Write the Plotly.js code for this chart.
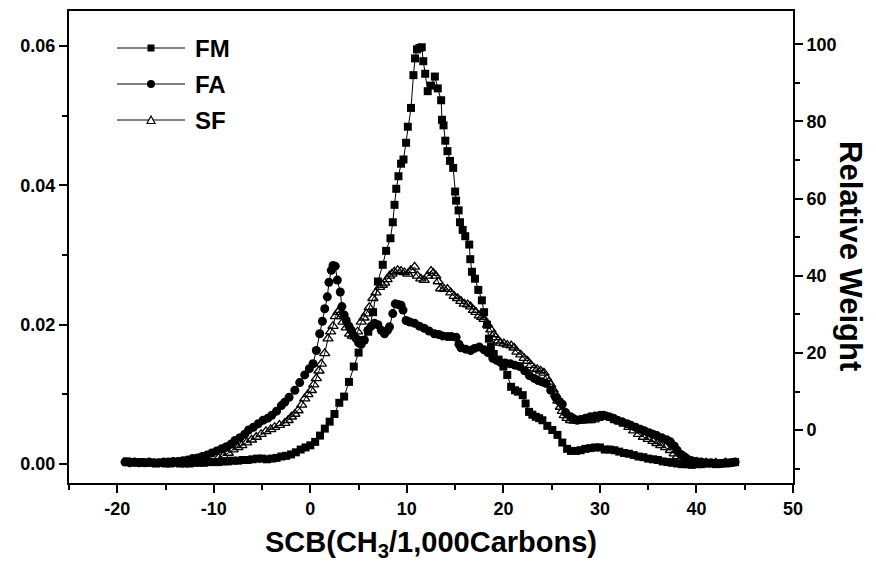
<!DOCTYPE html>
<html>
<head>
<meta charset="utf-8">
<script src="https://cdn.plot.ly/plotly-3.0.1.min.js"></script>
<style>
  html, body { margin: 0; padding: 0; background: #fff; }
  #chart { width: 876px; height: 567px; }
</style>
</head>
<body>
<div id="chart"></div>
<script>
// ---- Data ----
const fmX = [-19,-18.5,-18,-17.5,-17,-16.5,-16,-15.5,-15,-14.5,-14,-13.5,-13,-12.5,-12,-11.5,-11,-10.5,-10,-9.5,-9,-8.5,-8,-7.5,-7,-6.5,-6,-5.5,-5,-4.5,-4,-3.5,-3,-2.5,-2,-1.5,-1,-0.5,0,0.5,1,1.5,2,2.5,3,3.5,4,4.5,5,5.5,6,6.5,7,7.5,7.85,8.3,8.54,8.72,8.9,9.13,9.4,9.65,9.92,10.1,10.43,10.68,10.85,11.05,11.3,11.54,11.7,11.9,12.16,12.5,12.9,13.2,13.55,13.64,13.8,13.98,14.2,14.47,14.8,15.0,15.1,15.36,15.5,15.78,16.05,16.46,16.57,16.74,17.05,17.4,17.77,18.0,18.3,18.5,18.7,19.0,19.5,20.0,20.4,20.8,21.2,21.5,22.0,22.3,22.66,23.0,23.35,23.7,24.04,24.55,25.07,25.6,26.1,26.6,27.0,27.5,28.0,28.5,29.0,29.5,30.0,30.5,31.0,31.5,32.0,32.5,33.0,33.5,34.0,34.5,35.0,35.5,36.0,36.5,37.0,37.5,38.0,38.5,39.0,39.5,40.0,40.5,41.0,41.5,42.0,42.5,43.0,43.5,44.0];
const fmY = [0.0004,0.0003,0.0002,0.0003,0.0002,0.0002,0.0001,0.0002,0.0001,0.0001,0.0002,0.0001,0.0001,0.0001,0.0002,0.0002,0.0002,0.0003,0.0003,0.0003,0.0004,0.0004,0.0005,0.0005,0.0006,0.0006,0.0007,0.0008,0.0008,0.0007,0.0008,0.0009,0.0011,0.0012,0.0014,0.0017,0.0021,0.0024,0.0027,0.0032,0.0041,0.0051,0.0061,0.0072,0.0088,0.0097,0.0118,0.0140,0.0160,0.0178,0.0190,0.0218,0.0262,0.0286,0.0306,0.0324,0.0347,0.0372,0.0395,0.0413,0.0431,0.0437,0.0461,0.0484,0.0511,0.0558,0.0582,0.0595,0.0597,0.0598,0.0578,0.0560,0.0535,0.0543,0.0556,0.0539,0.0522,0.0494,0.0486,0.0464,0.0449,0.0435,0.0425,0.0391,0.0378,0.0364,0.0347,0.0336,0.0327,0.0315,0.0294,0.0276,0.0266,0.0250,0.0235,0.0218,0.0200,0.0180,0.0168,0.0158,0.0150,0.0140,0.0128,0.0111,0.0106,0.0104,0.0099,0.0087,0.0075,0.0071,0.0068,0.0066,0.0063,0.0055,0.0049,0.0042,0.0031,0.0022,0.0019,0.0019,0.0020,0.0022,0.0023,0.0024,0.0024,0.0021,0.0021,0.0020,0.0018,0.0016,0.0015,0.0013,0.0011,0.0010,0.0008,0.0007,0.0006,0.0004,0.0003,0.0002,0.0001,0.0000,0.0000,-0.0001,0.0000,0.0000,0.0001,0.0001,0.0000,0.0001,0.0001,0.0002,0.0003];

const faX = [-19.2,-18.7,-18.2,-17.7,-17.2,-16.7,-16.2,-15.7,-15.2,-14.7,-14.2,-13.7,-13.2,-12.7,-12.2,-11.7,-11.2,-10.7,-10.2,-9.7,-9.2,-8.7,-8.2,-7.8,-7.3,-6.8,-6.4,-5.9,-5.4,-4.9,-4.4,-4.0,-3.5,-3.0,-2.65,-2.2,-1.6,-1.1,-0.58,-0.1,0.28,0.62,0.97,1.25,1.49,1.76,1.93,2.17,2.35,2.58,2.8,3.1,3.27,3.5,3.72,4.0,4.24,4.5,4.75,5.0,5.27,5.6,5.96,6.3,6.65,7.0,7.35,7.69,8.0,8.2,8.54,8.8,9.1,9.4,9.6,9.92,10.3,10.8,11.3,11.8,12.3,12.85,13.3,13.7,14.2,14.6,15.1,15.4,15.6,16.1,16.6,17.0,17.5,18.0,18.4,18.9,19.3,19.7,20.2,20.7,21.2,21.7,22.2,22.7,23.2,23.6,24.0,24.4,24.9,25.4,25.8,26.1,26.45,26.96,27.3,27.65,28.0,28.5,29.0,29.5,30.0,30.4,30.9,31.4,31.8,32.3,32.8,33.2,33.7,34.2,34.6,35.1,35.5,35.9,36.4,36.9,37.3,37.7,38.0,38.4,38.7,39.0,39.5,40.0,40.5,41.0,41.5,42.0,42.5,43.0,43.5,44.0];
const faY = [0.0003,0.0002,0.0003,0.0002,0.0002,0.0003,0.0002,0.0002,0.0003,0.0003,0.0004,0.0004,0.0005,0.0006,0.0008,0.0009,0.0011,0.0013,0.0016,0.0019,0.0022,0.0025,0.0029,0.0034,0.0038,0.0043,0.0049,0.0053,0.0058,0.0063,0.0066,0.0070,0.0076,0.0084,0.0089,0.0096,0.0106,0.0117,0.0128,0.0137,0.0144,0.0163,0.0187,0.0205,0.0223,0.0240,0.0261,0.0278,0.0285,0.0284,0.0264,0.0247,0.0226,0.0214,0.0206,0.0198,0.0192,0.0185,0.0180,0.0174,0.0172,0.0178,0.0192,0.0198,0.0202,0.0200,0.0192,0.0187,0.0192,0.0197,0.0216,0.0230,0.0229,0.0228,0.0221,0.0206,0.0204,0.0202,0.0198,0.0195,0.0191,0.0187,0.0186,0.0184,0.0183,0.0183,0.0182,0.0172,0.0167,0.0165,0.0163,0.0166,0.0168,0.0164,0.0160,0.0152,0.0149,0.0146,0.0145,0.0144,0.0142,0.0140,0.0134,0.0127,0.0123,0.0120,0.0118,0.0116,0.0106,0.0096,0.0090,0.0086,0.0074,0.0068,0.0065,0.0063,0.0064,0.0066,0.0068,0.0069,0.0070,0.0070,0.0068,0.0066,0.0063,0.0061,0.0058,0.0056,0.0053,0.0050,0.0048,0.0045,0.0043,0.0041,0.0038,0.0035,0.0032,0.0026,0.0020,0.0014,0.0011,0.0008,0.0005,0.0004,0.0003,0.0002,0.0002,0.0001,0.0001,0.0002,0.0002,0.0003];

const sfX = [-9.5,-9.0,-8.5,-8.0,-7.5,-7.1,-6.6,-6.1,-5.6,-5.1,-4.6,-4.1,-3.7,-3.2,-2.65,-2.3,-1.96,-1.6,-1.27,-0.9,-0.58,-0.25,0.1,0.35,0.62,0.9,1.14,1.49,1.83,2.1,2.35,2.6,2.86,3.03,3.2,3.38,3.72,4.07,4.35,4.6,4.9,5.27,5.55,5.8,6.1,6.48,6.8,7.17,7.45,7.7,7.95,8.2,8.45,8.7,9.05,9.4,9.75,10.1,10.4,10.8,11.1,11.45,11.8,12.15,12.5,12.75,13.0,13.25,13.5,13.85,14.2,14.55,14.9,15.25,15.6,15.95,16.3,16.6,16.9,17.15,17.5,17.75,18.0,18.36,18.7,19.0,19.2,19.45,19.7,20.05,20.4,20.8,21.1,21.4,21.8,22.15,22.5,22.85,23.2,23.5,23.85,24.2,24.5,24.7,24.9,25.15,25.4,25.65,25.9,26.1,26.3,26.6,26.96,27.3,27.65,28.0,28.3,28.7,29.0,29.4,29.8,30.3,30.75,31.2,31.6,32.0,32.5,33.0,33.5,34.0,34.5,35.0,35.5,35.9,36.3,36.8,37.3,37.7,38.0,38.4,39.0,39.5,40.0,41.0,42.0,43.0];
const sfY = [0.0009,0.0012,0.0016,0.0021,0.0024,0.0027,0.0031,0.0035,0.0039,0.0043,0.0047,0.0050,0.0053,0.0056,0.0059,0.0063,0.0068,0.0072,0.0077,0.0085,0.0094,0.0100,0.0106,0.0114,0.0123,0.0134,0.0144,0.0159,0.0180,0.0190,0.0198,0.0212,0.0218,0.0221,0.0212,0.0204,0.0196,0.0187,0.0184,0.0183,0.0190,0.0204,0.0210,0.0216,0.0225,0.0238,0.0246,0.0254,0.0257,0.0260,0.0265,0.0270,0.0273,0.0276,0.0278,0.0277,0.0275,0.0273,0.0278,0.0283,0.0270,0.0266,0.0264,0.0270,0.0277,0.0274,0.0270,0.0262,0.0252,0.0251,0.0251,0.0246,0.0241,0.0238,0.0234,0.0230,0.0229,0.0226,0.0221,0.0218,0.0213,0.0211,0.0208,0.0200,0.0193,0.0186,0.0182,0.0177,0.0174,0.0173,0.0171,0.0170,0.0167,0.0161,0.0157,0.0152,0.0148,0.0142,0.0137,0.0136,0.0134,0.0131,0.0123,0.0118,0.0114,0.0107,0.0100,0.0091,0.0082,0.0076,0.0070,0.0066,0.0063,0.0062,0.0062,0.0062,0.0063,0.0063,0.0063,0.0064,0.0066,0.0068,0.0068,0.0066,0.0063,0.0061,0.0058,0.0053,0.0048,0.0043,0.0039,0.0036,0.0033,0.0030,0.0027,0.0024,0.0020,0.0015,0.0011,0.0008,0.0005,0.0004,0.0003,0.0002,0.0002,0.0002];

const seriesNames = ['FM', 'FA', 'SF'];
const xTickVals = [-20, -10, 0, 10, 20, 30, 40, 50];
const xTickText = ['-20', '-10', '0', '10', '20', '30', '40', '50'];
const yTickVals = [0.00, 0.02, 0.04, 0.06];
const y2TickVals = [0, 20, 40, 60, 80, 100];

// ---- Styles ----
const FONT = 'Liberation Sans, Arial, Helvetica, sans-serif';
const lineStyle = { color: '#000', width: 1 };

const traces = [
  { name: seriesNames[2], x: sfX, y: sfY, type: 'scatter', mode: 'lines+markers',
    line: lineStyle, marker: { symbol: 'triangle-up-open', size: 9, color: '#000', line: { width: 1.3, color: '#000' } },
    showlegend: false },
  { name: seriesNames[1], x: faX, y: faY, type: 'scatter', mode: 'lines+markers',
    line: lineStyle, marker: { symbol: 'circle', size: 9, color: '#000' }, showlegend: false },
  { name: seriesNames[0], x: fmX, y: fmY, type: 'scatter', mode: 'lines+markers',
    line: lineStyle, marker: { symbol: 'square', size: 8, color: '#000' }, showlegend: false },
  // carrier so the right-hand "Relative Weight" axis is drawn (no visible marks)
  { x: [null], y: [null], yaxis: 'y2', type: 'scatter', mode: 'markers', showlegend: false, hoverinfo: 'skip' }
];

// custom legend (paper coords)
const plotL = 69, plotR = 793, plotT = 11, plotB = 483;
const px = v => (v - plotL) / (plotR - plotL);
const py = v => (plotB - v) / (plotB - plotT);
const legendRows = [48, 84, 120];
const shapes = [];
const annotations = [];
legendRows.forEach((row, i) => {
  shapes.push({ type: 'line', xref: 'paper', yref: 'paper', x0: px(117), x1: px(185), y0: py(row), y1: py(row),
    line: { color: '#000', width: 1 } });
  annotations.push({ xref: 'paper', yref: 'paper', x: px(193), y: py(row), xanchor: 'left', yanchor: 'middle',
    text: seriesNames[i], showarrow: false, font: { family: FONT, size: 24, color: '#000', weight: 'bold' } });
});
// legend markers
shapes.push({ type: 'rect', xref: 'paper', yref: 'paper', xsizemode: 'pixel', ysizemode: 'pixel',
  xanchor: px(151), yanchor: py(legendRows[0]), x0: -3.5, x1: 3.5, y0: -3.5, y1: 3.5,
  fillcolor: '#000', line: { width: 0 } });
shapes.push({ type: 'circle', xref: 'paper', yref: 'paper', xsizemode: 'pixel', ysizemode: 'pixel',
  xanchor: px(151), yanchor: py(legendRows[1]), x0: -4, x1: 4, y0: -4, y1: 4,
  fillcolor: '#000', line: { width: 0 } });
shapes.push({ type: 'path', xref: 'paper', yref: 'paper', xsizemode: 'pixel', ysizemode: 'pixel',
  xanchor: px(151), yanchor: py(legendRows[2]), path: 'M-4,-3.5 L4,-3.5 L0,4 Z',
  fillcolor: '#fff', line: { width: 1.2, color: '#000' } });

annotations.push({ xref: 'paper', yref: 'paper', x: px(851), y: py(256), xanchor: 'center', yanchor: 'middle',
  text: 'Relative Weight', textangle: 90, showarrow: false,
  font: { family: FONT, size: 31, color: '#000', weight: 'bold' } });

const axisCommon = {
  showline: true, linecolor: '#000', linewidth: 2,
  ticks: 'outside', ticklen: 8, tickwidth: 2, tickcolor: '#000',
  showgrid: false, zeroline: false,
  tickfont: { family: FONT, size: 18, color: '#000', weight: 'bold' }
};

const layout = {
  width: 876, height: 567,
  margin: { l: plotL, r: 876 - plotR, t: plotT, b: 567 - plotB, pad: 0 },
  paper_bgcolor: '#fff', plot_bgcolor: '#fff',
  showlegend: false,
  xaxis: Object.assign({}, axisCommon, {
    range: [-25, 50], tickvals: xTickVals, ticktext: xTickText, mirror: true,
    minor: { dtick: 5, tick0: 0, ticks: 'outside', ticklen: 5, tickwidth: 2, tickcolor: '#000' },
    title: { text: 'SCB(CH<sub>3</sub>/1,000Carbons)', standoff: 14,
      font: { family: FONT, size: 29, color: '#000', weight: 'bold' } }
  }),
  yaxis: Object.assign({}, axisCommon, {
    range: [-0.0027, 0.065], tickvals: yTickVals, tickformat: '.2f',
    minor: { dtick: 0.01, tick0: 0, ticks: 'outside', ticklen: 5, tickwidth: 2, tickcolor: '#000' }
  }),
  yaxis2: Object.assign({}, axisCommon, {
    overlaying: 'y', side: 'right', range: [-13.7, 108.6], tickvals: y2TickVals,
    minor: { dtick: 10, tick0: 0, ticks: 'outside', ticklen: 5, tickwidth: 2, tickcolor: '#000' }
  }),
  shapes: shapes,
  annotations: annotations
};

Plotly.newPlot('chart', traces, layout, { displayModeBar: false, staticPlot: true });
</script>
</body>
</html>
